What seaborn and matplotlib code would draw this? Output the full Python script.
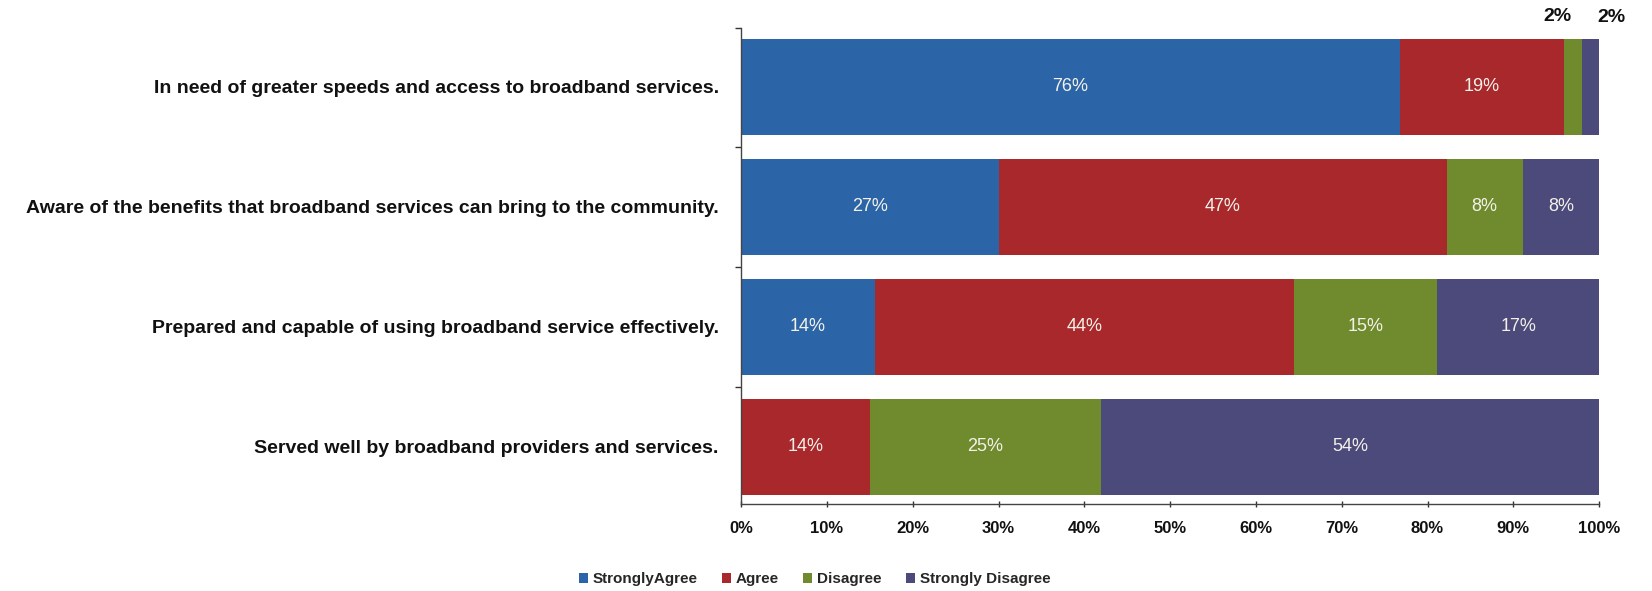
import matplotlib
matplotlib.use("Agg")
import matplotlib.pyplot as plt
from matplotlib.patches import Patch
from matplotlib import font_manager
import numpy as np
import pandas as pd
import seaborn as sns

statements = [
    "In need of greater speeds and access to broadband services.",
    "Aware of the benefits that broadband services can bring to the community.",
    "Prepared and capable of using broadband service effectively.",
    "Served well by broadband providers and services.",
]
responses = ["StronglyAgree", "Agree", "Disagree", "Strongly Disagree"]
strongly_agree = [76, 27, 14, 0]
agree = [19, 47, 44, 14]
disagree = [2, 8, 15, 25]
strongly_disagree = [2, 8, 17, 54]
x_ticks = [0, 10, 20, 30, 40, 50, 60, 70, 80, 90, 100]

colors = ["#2b65a7", "#a8282c", "#6f8b2d", "#4c4a7b"]

sns.set_theme(style="white")
plt.rcParams["font.family"] = ["Liberation Sans", "DejaVu Sans"]

installed = {f.name for f in font_manager.fontManager.ttflist}
narrow = "Liberation Sans Narrow" in installed
label_family = ["Liberation Sans Narrow", "Liberation Sans"] if narrow else ["Liberation Sans"]
label_size = 16 if narrow else 14

df = pd.DataFrame(
    {
        "statement": statements,
        responses[0]: strongly_agree,
        responses[1]: agree,
        responses[2]: disagree,
        responses[3]: strongly_disagree,
    }
)
raw = df[responses].to_numpy(dtype=float)
share = raw / raw.sum(axis=1, keepdims=True) * 100
cum = np.cumsum(share, axis=1)

fig = plt.figure(figsize=(16.52, 5.91), dpi=100)
ax = fig.add_axes([0.4486, 0.1472, 0.5194, 0.8054])

# stacked 100% bars: overlay cumulative totals, widest first
for j in range(len(responses) - 1, -1, -1):
    plot_df = pd.DataFrame({"statement": statements, "value": cum[:, j]})
    sns.barplot(
        data=plot_df, y="statement", x="value", orient="h",
        color=colors[j], saturation=1, width=0.8, linewidth=0, ax=ax,
        order=statements,
    )

# in-bar percentage labels
for i in range(len(statements)):
    for j in range(len(responses)):
        v = raw[i, j]
        if v <= 0:
            continue
        left = cum[i, j] - share[i, j]
        center = left + share[i, j] / 2
        if i == 0 and j >= 2:
            dx = -11 if j == 2 else 15
            dy = 10 if j == 2 else 9
            ax.annotate(
                f"{int(v)}%", xy=(center, -0.4), xytext=(dx, dy),
                textcoords="offset points", ha="center", va="bottom",
                fontsize=14, fontweight="bold", color="#111111",
                annotation_clip=False,
            )
        else:
            ax.text(center, i, f"{int(v)}%", ha="center", va="center",
                    fontsize=13, color="#f4f1ea")

ax.set_xlim(0, 100)
ax.set_ylim(3.475, -0.49)
ax.set_xticks(x_ticks)
ax.set_xticklabels([f"{t}%" for t in x_ticks], fontsize=12, fontweight="bold",
                   color="#111111")
ax.set_yticks(range(len(statements)))
ax.set_yticklabels(statements, fontsize=label_size, fontweight="bold",
                   color="#111111", family=label_family)
ax.set_xlabel("")
ax.set_ylabel("")
ax.set_yticks([-0.49, 0.5, 1.5, 2.5], minor=True)
ax.tick_params(axis="y", which="major", length=0, pad=16)
ax.tick_params(axis="y", which="minor", length=4, width=1, color="#333333", left=True)
ax.tick_params(axis="x", which="major", length=4, width=1, color="#333333",
               bottom=True, direction="inout", pad=10)

for side in ["top", "right"]:
    ax.spines[side].set_visible(False)
for side in ["left", "bottom"]:
    ax.spines[side].set_color("#444444")
    ax.spines[side].set_linewidth(1)

handles = [Patch(facecolor=c, edgecolor="none") for c in colors]
fig.legend(handles, responses, loc="center", bbox_to_anchor=(0.493, 0.02),
           ncol=4, frameon=False, handlelength=0.6, handleheight=0.6,
           handletextpad=0.3, columnspacing=1.6,
           prop={"family": ["Liberation Sans", "DejaVu Sans"], "size": 11, "weight": "bold"})

fig.savefig("out.png", dpi=100, facecolor="white")
